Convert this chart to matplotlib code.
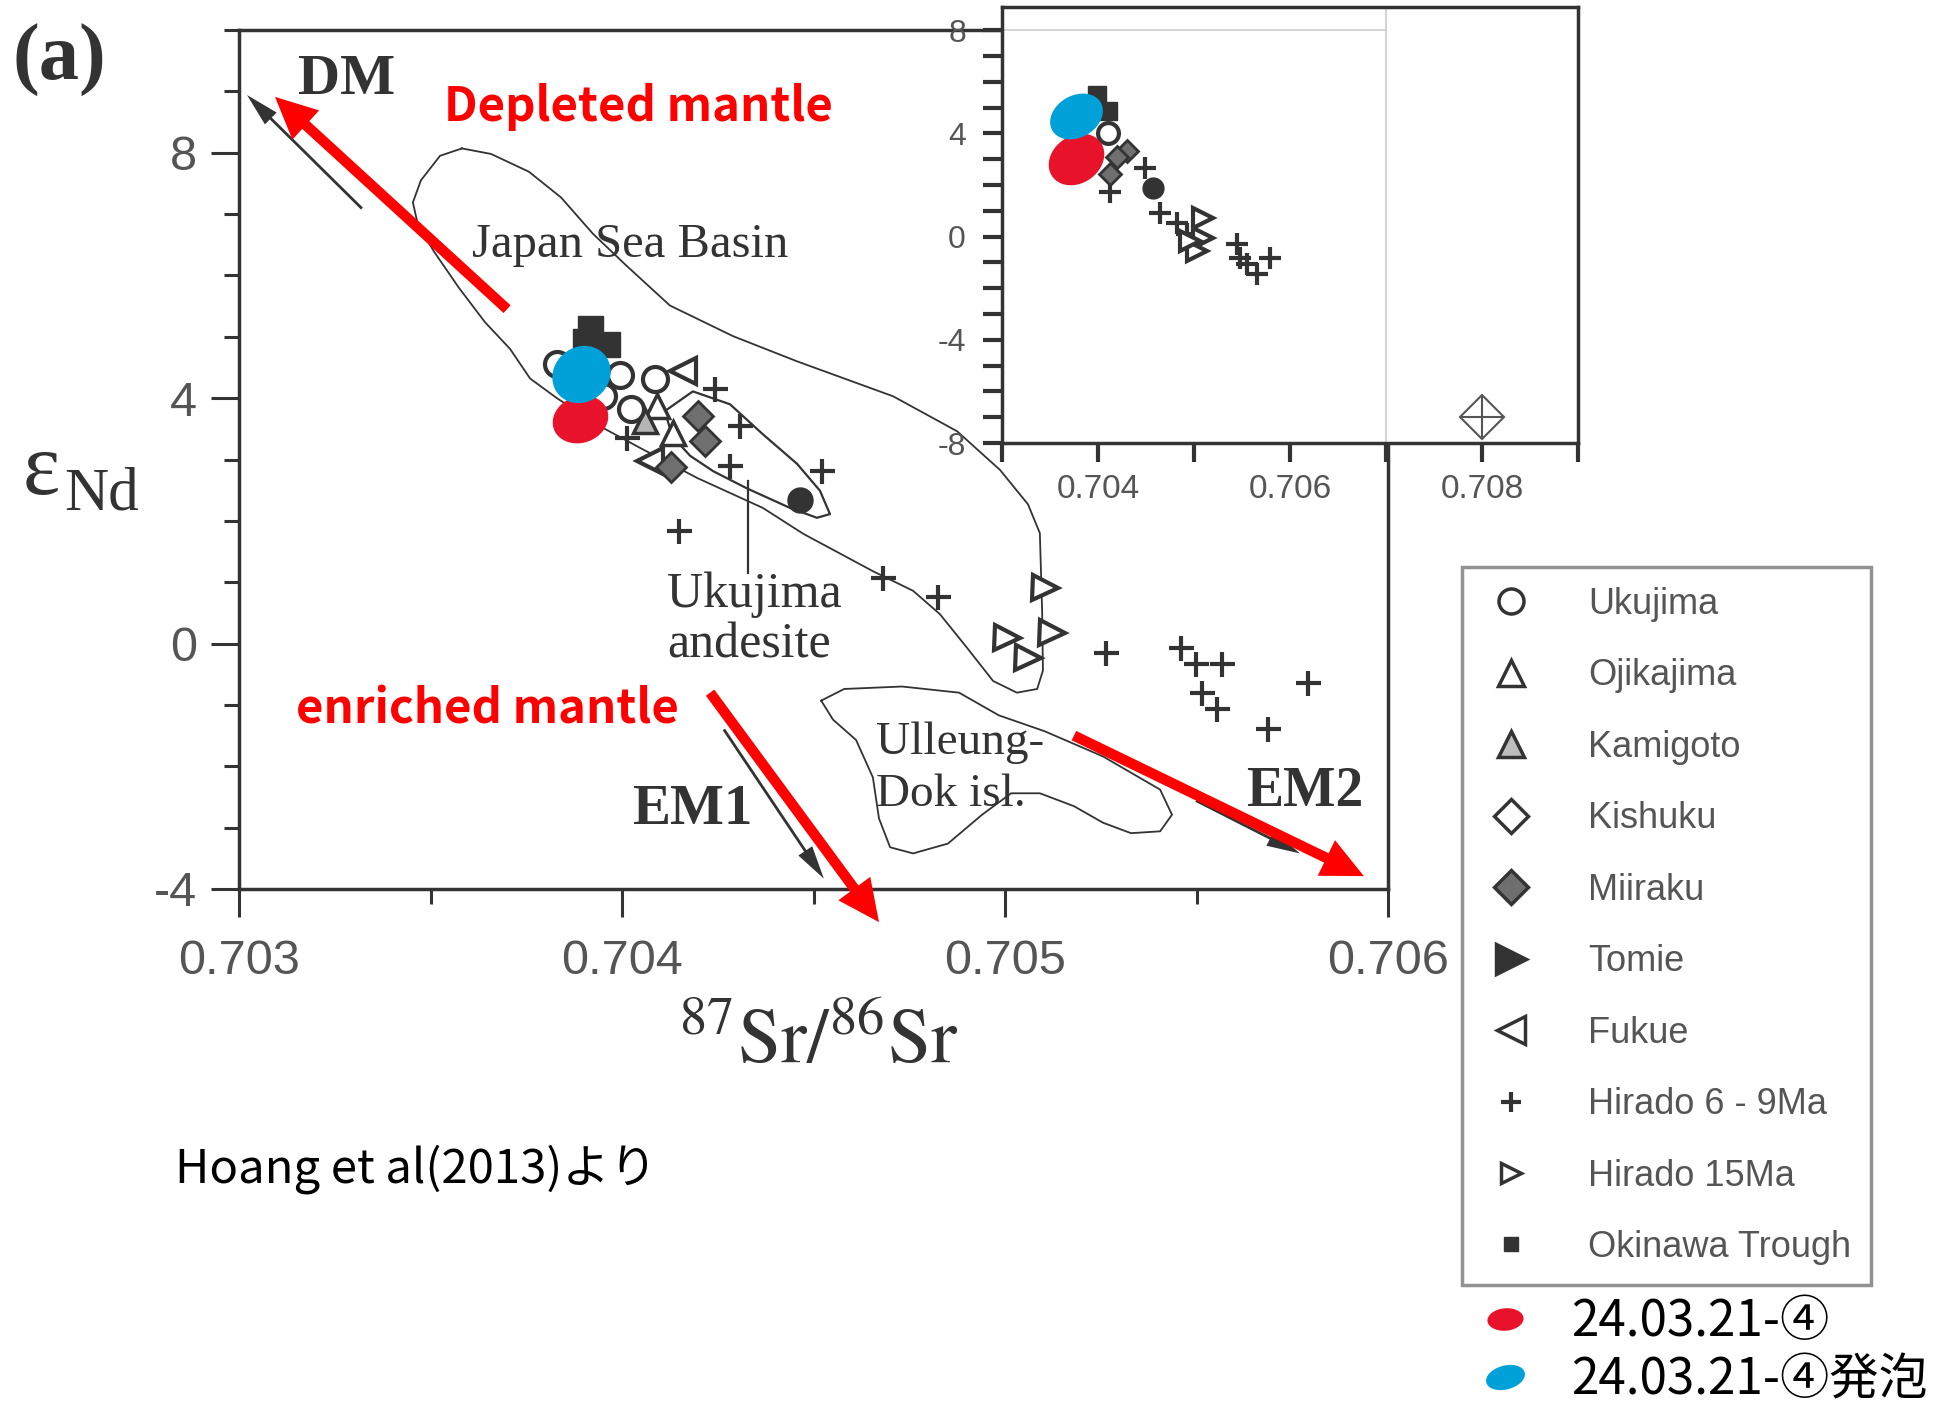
import numpy as np
import matplotlib.pyplot as plt
from matplotlib.path import Path
from matplotlib.lines import Line2D

# ---- values: 87Sr/86Sr vs eps Nd ----
ukujima_sr = [0.703830, 0.703995, 0.704086, 0.704024, 0.703950]
ukujima_nd = [4.55, 4.37, 4.32, 3.82, 4.03]
ojikajima_sr = [0.704091, 0.704133]
ojikajima_nd = [3.87, 3.43]
kamigoto_sr = [0.704060]
kamigoto_nd = [3.62]
miiraku_sr = [0.704198, 0.704217, 0.704128]
miiraku_nd = [3.71, 3.30, 2.88]
fukue_sr = [0.704159, 0.704073]
fukue_nd = [4.44, 2.97]
hirado69_sr = [0.704243, 0.704308, 0.704282, 0.704522, 0.704149, 0.704013, 0.704681, 0.704825,
               0.705264, 0.705460, 0.705499, 0.705567, 0.705514, 0.705554, 0.705791, 0.705687]
hirado69_nd = [4.15, 3.54, 2.89, 2.81, 1.84, 3.35, 1.07, 0.76,
               -0.15, -0.07, -0.33, -0.33, -0.80, -1.06, -0.65, -1.39]
hirado15_sr = [0.705104, 0.705005, 0.705060, 0.705123]
hirado15_nd = [0.91, 0.09, -0.23, 0.18]
okinawa_sr = [0.703916, 0.703903, 0.703961]
okinawa_nd = [5.15, 4.93, 4.89]
other_sr = [0.704465]
other_nd = [2.34]
sample_sr = [0.703890, 0.703893]      # 24.03.21-4, 24.03.21-4 foamed
sample_nd = [3.66, 4.39]

# inset (wider range)
in_okinawa_sr = [0.703990, 0.704104]
in_okinawa_nd = [5.47, 4.88]
in_ukujima_sr = [0.704104]
in_ukujima_nd = [4.03]
in_miiraku_sr = [0.704302, 0.704125, 0.704200]
in_miiraku_nd = [3.33, 2.44, 3.10]
in_hirado69_sr = [0.704125, 0.704490, 0.704646, 0.704823, 0.704927, 0.705448,
                  0.705552, 0.705656, 0.705792, 0.705479]
in_hirado69_nd = [1.71, 2.67, 0.93, 0.54, 0.12, -0.27, -1.05, -1.43, -0.81, -0.81]
in_hirado15_sr = [0.705094, 0.705094, 0.705031, 0.704958]
in_hirado15_nd = [0.74, -0.04, -0.54, -0.16]
in_other_sr = [0.704573]
in_other_nd = [1.90]
in_sample_sr = [0.703771, 0.703771]
in_sample_nd = [3.02, 4.69]
err_sr = [0.708]
err_nd = [-6.98]

# field outlines
jsb_sr = [0.703582, 0.703658, 0.703757, 0.703841, 0.703924, 0.704008, 0.704125, 0.704290, 0.704457,
          0.704708, 0.704875, 0.704987, 0.705060, 0.705091, 0.705097, 0.705099, 0.705084, 0.705031,
          0.704969, 0.704901, 0.704830, 0.704760, 0.704655, 0.704473, 0.704368, 0.704196, 0.704047,
          0.703943, 0.703830, 0.703760, 0.703708, 0.703642, 0.703574, 0.703509, 0.703467, 0.703454,
          0.703475, 0.703525, 0.703582]
jsb_nd = [8.07, 7.98, 7.69, 7.27, 6.68, 6.18, 5.51, 5.01, 4.60,
          4.03, 3.46, 2.83, 2.27, 1.80, 0.52, -0.44, -0.74, -0.80,
          -0.61, -0.07, 0.48, 0.86, 1.18, 1.79, 2.21, 2.70, 3.19,
          3.54, 4.00, 4.32, 4.80, 5.24, 5.80, 6.39, 6.83, 7.19,
          7.55, 7.95, 8.07]
uku_sr = [0.704112, 0.704185, 0.704282, 0.704368, 0.704457, 0.704517, 0.704543, 0.704509,
          0.704439, 0.704326, 0.704238, 0.704178, 0.704131, 0.704112]
uku_nd = [3.79, 4.11, 3.90, 3.41, 2.93, 2.49, 2.11, 2.05, 2.21, 2.53, 2.81, 3.06, 3.38, 3.79]
ull_sr = [0.704520, 0.704580, 0.704731, 0.704880, 0.704984, 0.705104, 0.705256, 0.705405,
          0.705436, 0.705405, 0.705329, 0.705256, 0.705180, 0.705091, 0.705016, 0.704940,
          0.704851, 0.704760, 0.704700, 0.704671, 0.704655, 0.704611, 0.704551, 0.704520]
ull_nd = [-0.93, -0.74, -0.70, -0.80, -1.17, -1.43, -1.84, -2.38, -2.79, -3.06, -3.09, -2.92,
          -2.65, -2.44, -2.44, -2.79, -3.26, -3.42, -3.32, -2.85, -2.18, -1.57, -1.24, -0.93]
uku_line_sr = [0.704329, 0.704329]
uku_line_nd = [2.65, 1.15]

# mixing arrows: (tail sr, tail nd, tip sr, tip nd)
red_arrows = [(0.703700, 5.45, 0.703094, 8.91),
              (0.704230, -0.80, 0.704671, -4.54),
              (0.705180, -1.50, 0.705937, -3.79)]
black_arrows = [(0.703321, 7.09, 0.703021, 8.94),
                (0.704266, -1.40, 0.704527, -3.83),
                (0.705499, -2.56, 0.705770, -3.42)]

legend_names = ["Ukujima", "Ojikajima", "Kamigoto", "Kishuku", "Miiraku", "Tomie", "Fukue",
                "Hirado 6 - 9Ma", "Hirado 15Ma", "Okinawa Trough"]
sample_names = ["24.03.21-④", "24.03.21-④発泡"]

W, H = 1959, 1402
DARK = "#333333"
GRAY = "#6f6f6f"
RED = "#E8132A"
BLUE = "#00A0D8"

plt.rcParams["font.family"] = ["Liberation Sans", "DejaVu Sans"]
plt.rcParams["mathtext.fontset"] = "stix"
plt.rcParams["axes.unicode_minus"] = False
SERIF = ["Liberation Serif", "DejaVu Serif"]
JP = ["Noto Sans CJK JP", "DejaVu Sans"]


def blob(w, h, angle):
    t = np.linspace(0, 2 * np.pi, 60)
    x, y = w * np.cos(t), h * np.sin(t)
    a = np.deg2rad(angle)
    return Path(np.column_stack([x * np.cos(a) - y * np.sin(a), x * np.sin(a) + y * np.cos(a)]))


def fxy(px, py):
    return px / W, 1 - py / H


def pts(ax, x, y, **kw):
    ax.plot(x, y, ls="none", **kw)


fig = plt.figure(figsize=(W / 100, H / 100), dpi=100)

# ---------------- main panel ----------------
ax = fig.add_axes([239 / W, 1 - 889 / H, 1149 / W, 859 / H])
ax.set_xlim(0.703, 0.706)
ax.set_ylim(-4, 10)
ax.set_xticks([0.703, 0.704, 0.705, 0.706])
ax.set_xticklabels(["0.703", "0.704", "0.705", "0.706"])
ax.set_xticks([0.7035, 0.7045, 0.7055], minor=True)
ax.set_yticks([-4, 0, 4, 8])
ax.set_yticks(np.arange(-4, 11), minor=True)
ax.tick_params(which="major", length=20, width=2.2, color=DARK, labelsize=35, labelcolor="#555555")
ax.tick_params(axis="x", which="major", pad=16)
ax.tick_params(axis="y", which="major", pad=10)
ax.tick_params(which="minor", length=11, width=2.2, color=DARK)
for s in ax.spines.values():
    s.set_linewidth(2.5)
    s.set_color(DARK)

ax.plot(jsb_sr, jsb_nd, color=DARK, lw=1.3)
ax.plot(uku_sr, uku_nd, color=DARK, lw=1.6)
ax.plot(ull_sr, ull_nd, color=DARK, lw=1.3)
ax.plot(uku_line_sr, uku_line_nd, color=DARK, lw=1.6)

for x0, y0, x1, y1 in black_arrows:
    ax.annotate("", xy=(x1, y1), xytext=(x0, y0), annotation_clip=False,
                arrowprops=dict(arrowstyle="simple,head_length=1.2,head_width=0.6,tail_width=0.1",
                                mutation_scale=20, fc=DARK, ec="none", shrinkA=0, shrinkB=0))

pts(ax, okinawa_sr, okinawa_nd, marker="s", ms=18, mfc=DARK, mec=DARK)
pts(ax, hirado69_sr, hirado69_nd, marker="+", ms=18, mew=3, color=DARK)
pts(ax, hirado15_sr, hirado15_nd, marker=">", ms=18, mfc="white", mec=DARK, mew=3)
pts(ax, fukue_sr, fukue_nd, marker="<", ms=19, mfc="white", mec=DARK, mew=3)
pts(ax, ojikajima_sr, ojikajima_nd, marker="^", ms=17, mfc="white", mec=DARK, mew=2.5)
pts(ax, kamigoto_sr, kamigoto_nd, marker="^", ms=17, mfc="#b5b5b5", mec=DARK, mew=2.5)
pts(ax, ukujima_sr, ukujima_nd, marker="o", ms=18, mfc="white", mec=DARK, mew=3)
pts(ax, miiraku_sr, miiraku_nd, marker="D", ms=15, mfc=GRAY, mec=DARK, mew=2)
pts(ax, other_sr, other_nd, marker="o", ms=18, mfc=DARK, mec=DARK)
pts(ax, sample_sr[:1], sample_nd[:1], marker=blob(1.0, 0.82, 20), ms=40, mfc=RED, mec="none")
pts(ax, sample_sr[1:], sample_nd[1:], marker=blob(1.0, 0.9, 40), ms=42, mfc=BLUE, mec="none")

for x0, y0, x1, y1 in red_arrows:
    ax.annotate("", xy=(x1, y1), xytext=(x0, y0), annotation_clip=False,
                arrowprops=dict(arrowstyle="simple,head_length=1.0,head_width=0.95,tail_width=0.25",
                                mutation_scale=30, fc="red", ec="none", shrinkA=0, shrinkB=0))

# ---------------- inset ----------------
ai = fig.add_axes([1002 / W, 1 - 443 / H, 576 / W, 436 / H])
ai.set_facecolor("white")
ai.set_xlim(0.703, 0.709)
ai.set_ylim(-8, 8.9)
ai.set_xticks([0.704, 0.706, 0.708])
ai.set_xticklabels(["0.704", "0.706", "0.708"])
ai.set_xticks([0.703, 0.705, 0.707, 0.709], minor=True)
ai.set_yticks([-8, -4, 0, 4, 8])
ai.set_yticks(np.arange(-8, 9), minor=True)
ai.tick_params(which="both", length=14, width=3, color=DARK, labelcolor="#555555")
ai.tick_params(axis="x", labelsize=24, pad=8)
ai.tick_params(axis="y", labelsize=23, pad=12)
for s in ai.spines.values():
    s.set_linewidth(2.5)
    s.set_color(DARK)
ai.axhline(8, xmax=4 / 6, color="#cccccc", lw=1.2)
ai.axvline(0.707, color="#cccccc", lw=1.2)

pts(ai, in_okinawa_sr, in_okinawa_nd, marker="s", ms=13, mfc=DARK, mec=DARK)
pts(ai, in_hirado69_sr, in_hirado69_nd, marker="+", ms=16, mew=3, color=DARK)
pts(ai, in_hirado15_sr, in_hirado15_nd, marker=">", ms=15, mfc="white", mec=DARK, mew=3)
pts(ai, in_miiraku_sr, in_miiraku_nd, marker="D", ms=11, mfc=GRAY, mec=DARK, mew=2)
pts(ai, in_ukujima_sr, in_ukujima_nd, marker="o", ms=15, mfc="white", mec=DARK, mew=3)
pts(ai, in_other_sr, in_other_nd, marker="o", ms=15, mfc=DARK, mec=DARK)
pts(ai, in_sample_sr[:1], in_sample_nd[:1], marker=blob(1.0, 0.8, 35), ms=40, mfc=RED, mec="none")
pts(ai, in_sample_sr[1:], in_sample_nd[1:], marker=blob(1.0, 0.75, 30), ms=38, mfc=BLUE, mec="none")
pts(ai, err_sr, err_nd, marker="D", ms=22, mfc="none", mec="#555555", mew=1.5)
pts(ai, err_sr, err_nd, marker="+", ms=31, mew=1.5, color="#555555")

# ---------------- texts ----------------
fig.text(*fxy(12, 60), "(a)", family=SERIF, weight="bold", fontsize=58, color=DARK, va="center")
fig.text(*fxy(298, 94), "DM", family=SERIF, weight="bold", fontsize=42, color=DARK)
fig.text(*fxy(632, 824), "EM1", family=SERIF, weight="bold", fontsize=41, color=DARK)
fig.text(*fxy(1246, 806), "EM2", family=SERIF, weight="bold", fontsize=40, color=DARK)
fig.text(*fxy(472, 257), "Japan Sea Basin", family=SERIF, fontsize=35, color=DARK)
fig.text(*fxy(667, 607), "Ukujima", family=SERIF, fontsize=36, color=DARK)
fig.text(*fxy(667, 657), "andesite", family=SERIF, fontsize=36, color=DARK)
fig.text(*fxy(876, 754), "Ulleung-", family=SERIF, fontsize=34, color=DARK)
fig.text(*fxy(876, 806), "Dok isl.", family=SERIF, fontsize=34, color=DARK)
fig.text(*fxy(41, 494), "ε", family=SERIF, fontsize=64, color=DARK, ha="center")
fig.text(*fxy(64, 509), "Nd", family=SERIF, fontsize=44, color=DARK)
fig.text(*fxy(818, 1042), r"$^{87}\mathrm{Sr}/^{86}\mathrm{Sr}$", fontsize=56, color=DARK,
         ha="center", va="center")
fig.text(*fxy(444, 121), "Depleted mantle", family=JP, weight="bold", fontsize=34, color="red")
fig.text(*fxy(296, 723), "enriched mantle", family=JP, weight="bold", fontsize=34, color="red")
fig.text(*fxy(175, 1182), "Hoang et al(2013)より", family=JP, fontsize=34, color="black")

# ---------------- legends ----------------
lk = dict(ls="none", mec=DARK, mew=2.5)
handles = [Line2D([], [], marker="o", ms=18, mfc="white", **lk),
           Line2D([], [], marker="^", ms=19, mfc="white", **lk),
           Line2D([], [], marker="^", ms=19, mfc="#bdbdbd", **lk),
           Line2D([], [], marker="D", ms=17, mfc="white", **lk),
           Line2D([], [], marker="D", ms=17, mfc=GRAY, **lk),
           Line2D([], [], marker=">", ms=21, mfc=DARK, **lk),
           Line2D([], [], marker="<", ms=20, mfc="white", **lk),
           Line2D([], [], marker="+", ms=14, color=DARK, ls="none", mew=3),
           Line2D([], [], marker=">", ms=14, mfc="white", **lk),
           Line2D([], [], marker="s", ms=10, mfc=DARK, mec=DARK, ls="none")]
leg = fig.legend(handles, legend_names, loc="upper left", bbox_to_anchor=fxy(1462, 567),
                 borderaxespad=0, fontsize=26, labelcolor="#555555", frameon=True, fancybox=False,
                 edgecolor="#777777", borderpad=0.55, handlelength=1.6, handletextpad=1.35,
                 labelspacing=1.01)
leg.get_frame().set_linewidth(2.5)

sh = [Line2D([], [], ls="none", marker=blob(1.0, 0.62, 5), ms=26, mfc=RED, mec="none"),
      Line2D([], [], ls="none", marker=blob(1.0, 0.6, 15), ms=28, mfc=BLUE, mec="none")]
leg2 = fig.legend(sh, sample_names, loc="upper left", bbox_to_anchor=fxy(1480, 1296),
                  borderaxespad=0, frameon=False, prop=dict(family=JP, size=35.5),
                  borderpad=0, handlelength=1.0, handletextpad=0.85, labelspacing=0.12)

fig.savefig("out.png", dpi=100)
